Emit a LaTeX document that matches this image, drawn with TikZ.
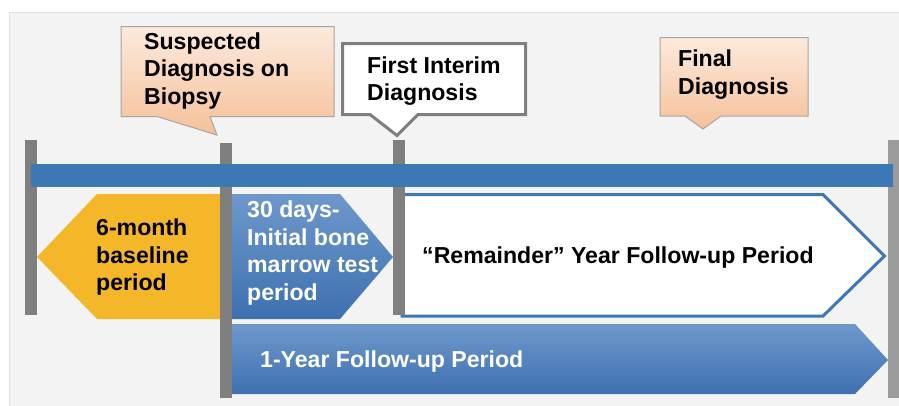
\documentclass[tikz,border=0pt]{standalone}
\usepackage{fontspec}
\setmainfont{Liberation Sans}
\definecolor{bgray}{RGB}{243,243,243}
\definecolor{bgline}{RGB}{225,225,225}
\definecolor{bargray}{RGB}{127,127,127}
\definecolor{bargraylt}{RGB}{155,155,155}
\definecolor{tlblue}{RGB}{60,120,181}
\definecolor{arrtop}{RGB}{110,152,204}
\definecolor{arrbot}{RGB}{62,113,176}
\definecolor{peachtop}{RGB}{252,234,220}
\definecolor{peachbot}{RGB}{245,192,153}
\definecolor{peachline}{RGB}{165,165,165}
\definecolor{gold}{RGB}{245,183,42}
\tikzset{
  lbl/.style={inner sep=0pt, anchor=west, align=left, font=\fontsize{23.1}{27.5}\selectfont\bfseries},
  peach/.style={top color=peachtop, bottom color=peachbot, draw=peachline, line width=1pt, line join=miter},
  bluearr/.style={top color=arrtop, bottom color=arrbot, draw=none},
  vbar/.style={fill=bargray, draw=none},
}
\begin{document}
\begin{tikzpicture}[x=1pt,y=-1pt]
\useasboundingbox (0,0) rectangle (899,405);
\fill[white] (0,0) rectangle (899,405);
\filldraw[fill=bgray, draw=bgline, line width=1pt] (9.5,12.5) rectangle (905,410);

% period shapes
\fill[gold] (37,257) -- (97,194) -- (221,194) -- (221,319) -- (97,319) -- cycle;
\path[bluearr] (231,194) -- (340,194) -- (393,257) -- (340,319) -- (231,319) -- cycle;
\filldraw[fill=white, draw=tlblue, line width=3pt, line join=miter] (402,194.5) -- (823,194.5) -- (884.5,256) -- (823,316) -- (402,316) -- cycle;
\path[bluearr] (231,324) -- (855,324) -- (888,360) -- (855,394) -- (231,394) -- cycle;

% vertical markers
\fill[vbar] (25,140) rectangle (37,315);
\fill[vbar] (220,143) rectangle (232,398);
\fill[vbar] (393,140) rectangle (405,315);
\fill[bargraylt] (888,140) rectangle (899,398);

% timeline
\fill[tlblue] (31,164) rectangle (893,187);

% callouts
\path[peach] (121,26.5) -- (334,26.5) -- (334,116.5) -- (210,116.5) -- (217,135) -- (157,116.5) -- (121,116.5) -- cycle;
\filldraw[fill=white, draw=bargray, line width=3pt, line join=miter] (342.5,43.5) -- (525.5,43.5) -- (525.5,114.5) -- (418,114.5) -- (397,135.5) -- (370,114.5) -- (342.5,114.5) -- cycle;
\path[peach] (660,37.5) -- (808,37.5) -- (808,116) -- (721,116) -- (703,129) -- (685,116) -- (660,116) -- cycle;

% labels
\node[lbl] (susp) at (144,71) {Suspected\\Diagnosis on\\Biopsy};
\node[lbl] (inter) at (367,81) {First Interim\\Diagnosis};
\node[lbl] (final) at (678,74.5) {Final\\Diagnosis};
\node[lbl] (base) at (96,257.5) {6-month\\baseline\\period};
\node[lbl, text=white] (thirty) at (247,253) {30 days-\\Initial bone\\marrow test\\period};
\node[lbl] (rem) at (422,258) {“Remainder” Year Follow-up Period};
\node[lbl, text=white] (oneyr) at (260,362) {1-Year Follow-up Period};
\end{tikzpicture}
\end{document}
